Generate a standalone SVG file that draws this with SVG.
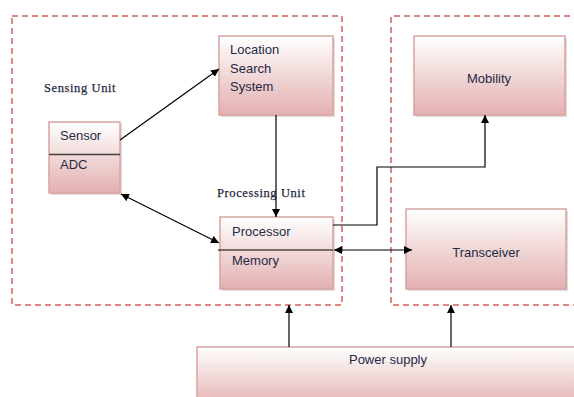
<svg xmlns="http://www.w3.org/2000/svg" width="574" height="397" viewBox="0 0 574 397">
<defs>
<linearGradient id="g" x1="0" y1="0" x2="0" y2="1">
<stop offset="0" stop-color="#ffffff"/>
<stop offset="1" stop-color="#e3b0b0"/>
</linearGradient>
<marker id="ah" viewBox="0 0 10 10" refX="10" refY="5" markerWidth="8" markerHeight="8" markerUnits="userSpaceOnUse" orient="auto-start-reverse">
<path d="M0,0 L10,5 L0,10 z" fill="#000"/>
</marker>
</defs>
<style>
.box{fill:url(#g);stroke:#d9a3a3;stroke-width:1.5}
.shadow{fill:#b8a0a0;opacity:0.4}
.dash{fill:none;stroke:#d46060;stroke-width:1.5;stroke-dasharray:6,4}
.t{font-family:"Liberation Sans",Arial,sans-serif;font-size:13px;fill:#1f2a44}
.s{font-family:"Liberation Serif","Times New Roman",serif;font-size:12.5px;letter-spacing:0.6px;fill:#1f2a44;stroke:#1f2a44;stroke-width:0.25}
.c{fill:none;stroke:#000;stroke-width:1.2}
</style>
<rect width="574" height="397" fill="#fff"/>
<g id="sensing-unit-boundary">
<rect class="dash" x="12" y="16" width="330" height="289"/>
<text class="s" x="44" y="92">Sensing Unit</text>
</g>
<g id="right-boundary">
<path class="dash" d="M580,16 H391 V305 H580"/>
</g>
<g id="location">
<rect class="shadow" x="221" y="38" width="114" height="79"/>
<rect class="box" x="219" y="36" width="114" height="79"/>
<text class="t" x="230" y="54">Location</text>
<text class="t" x="230" y="73">Search</text>
<text class="t" x="230" y="91">System</text>
</g>
<g id="sensor">
<rect class="shadow" x="51" y="124" width="71" height="71"/>
<rect class="box" x="49" y="122" width="71" height="71"/>
<line x1="49" y1="154.5" x2="120" y2="154.5" stroke="#404040" stroke-width="1.5"/>
<text class="t" x="60" y="140">Sensor</text>
<text class="t" x="60" y="169">ADC</text>
</g>
<g id="processor">
<rect class="shadow" x="222" y="219" width="113" height="72"/>
<rect class="box" x="220" y="217" width="113" height="72"/>
<text class="s" x="217" y="197">Processing  Unit</text>
<text class="t" x="232" y="236">Processor</text>
<text class="t" x="232" y="265">Memory</text>
</g>
<g id="mobility">
<rect class="shadow" x="416" y="38" width="151" height="79"/>
<rect class="box" x="414" y="36" width="151" height="79"/>
<text class="t" x="489" y="83" text-anchor="middle">Mobility</text>
</g>
<g id="transceiver">
<rect class="shadow" x="408" y="211" width="160" height="80"/>
<rect class="box" x="406" y="209" width="160" height="80"/>
<text class="t" x="486" y="257" text-anchor="middle">Transceiver</text>
</g>
<g id="power-supply">
<rect class="box" x="197" y="347" width="390" height="60"/>
<text class="t" x="388" y="364" text-anchor="middle">Power supply</text>
</g>
<g id="connectors">
<line class="c" x1="120" y1="140" x2="219" y2="69" marker-end="url(#ah)"/>
<line class="c" x1="276" y1="115" x2="276" y2="217" marker-end="url(#ah)"/>
<line class="c" x1="121" y1="194" x2="219" y2="243" marker-start="url(#ah)" marker-end="url(#ah)"/>
<line class="c" x1="218" y1="250" x2="333" y2="250"/>
<line class="c" x1="334" y1="250" x2="412" y2="250" marker-start="url(#ah)" marker-end="url(#ah)"/>
<polyline class="c" points="333,225 377,225 377,167 485,167 485,115" marker-end="url(#ah)"/>
<line class="c" x1="289" y1="347" x2="289" y2="305" marker-end="url(#ah)"/>
<line class="c" x1="451" y1="347" x2="451" y2="305" marker-end="url(#ah)"/>
</g>
</svg>
